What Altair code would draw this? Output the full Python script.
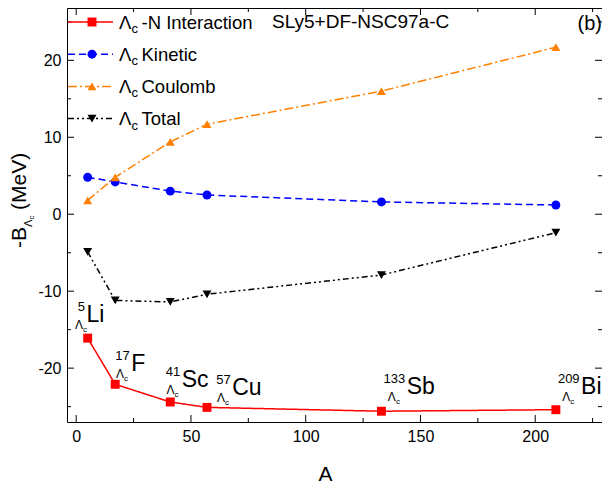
import altair as alt
import pandas as pd

# ---------------- data ----------------
A = [5, 17, 41, 57, 133, 209]
interaction = [-16.1, -22.1, -24.4, -25.1, -25.6, -25.4]
kinetic = [4.8, 4.2, 3.0, 2.5, 1.6, 1.2]
coulomb = [1.8, 4.8, 9.4, 11.7, 16.0, 21.7]
total = [-4.9, -11.2, -11.4, -10.4, -7.9, -2.4]

series = ["Interaction", "Kinetic", "Coulomb", "Total"]
legend_rest = ["-N Interaction", "Kinetic", "Coulomb", "Total"]
colors = ["#FF0000", "#0000FF", "#FF8000", "#000000"]
dashes = [[1, 0], [7, 4], [9, 3, 2, 3], [6, 3, 2, 3, 2, 3]]
shapes = ["square", "circle", "triangle-up", "triangle-down"]
sizes = [80, 80, 110, 110]

mass_numbers = ["5", "17", "41", "57", "133", "209"]
elements = ["Li", "F", "Sc", "Cu", "Sb", "Bi"]
label_x = [4.5, 24, 46, 68, 144, 220]
label_y = [-14.0, -20.4, -22.4, -23.5, -23.4, -23.4]

x_major = [0, 50, 100, 150, 200]
x_minor = [25, 75, 125, 175, 225]
y_major = [-20, -10, 0, 10, 20]
y_minor = [-25, -15, -5, 5, 15, 25]

model_text = "SLy5+DF-NSC97a-C"
panel_text = "(b)"

# ---------------- layout ----------------
W, H = 535, 414
X_DOM = [-4, 229.1]
Y_DOM = [-27, 26.8]
FONT = "Liberation Sans"
PPU = W / (X_DOM[1] - X_DOM[0])

df = pd.DataFrame({
    "A": A * 4,
    "value": interaction + kinetic + coulomb + total,
    "series": sum([[s] * len(A) for s in series], []),
})

xs = alt.Scale(domain=X_DOM, nice=False, zero=False)
ys = alt.Scale(domain=Y_DOM, nice=False, zero=False)
XAXIS = alt.Axis(
    values=x_major, ticks=False, tickSize=0, domain=False, grid=False,
    labelFont=FONT, labelFontSize=16, labelColor="black", labelPadding=6,
    labelExpr="'' + datum.value",
    title="A", titleFont=FONT, titleFontSize=21, titleFontWeight="normal",
    titleColor="black", titleBaseline="alphabetic", titleY=58, titleX=258)
YAXIS = alt.Axis(
    values=y_major, ticks=False, tickSize=0, domain=False, grid=False,
    labelFont=FONT, labelFontSize=16, labelColor="black", labelPadding=6,
    labelExpr="'' + datum.value", title="")

col = alt.Color("series:N", scale=alt.Scale(domain=series, range=colors), legend=None)
dash = alt.StrokeDash("series:N", scale=alt.Scale(domain=series, range=dashes), legend=None)
shp = alt.Shape("series:N", scale=alt.Scale(domain=series, range=shapes), legend=None)
sz = alt.Size("series:N", scale=alt.Scale(domain=series, range=sizes), legend=None)

def X(field):
    return alt.X(field, scale=xs, axis=XAXIS)

def Y(field):
    return alt.Y(field, scale=ys, axis=YAXIS)

lines = alt.Chart(df).mark_line(strokeWidth=1.5).encode(
    x=X("A:Q"), y=Y("value:Q"),
    color=col, strokeDash=dash, detail="series:N", order="A:Q",
)

points = alt.Chart(df).mark_point(filled=True, opacity=1, strokeWidth=0).encode(
    x=X("A:Q"), y=Y("value:Q"), color=col, shape=shp, size=sz,
)

# ---------------- inward ticks ----------------
def xticks(vals, L):
    d = pd.DataFrame({"t": vals})
    base = alt.Chart(d).mark_rule(color="black", strokeWidth=1)
    b = base.encode(x=X("t:Q"), y=alt.value(H - L), y2=alt.value(H))
    t = base.encode(x=X("t:Q"), y=alt.value(0), y2=alt.value(L))
    return [b, t]

def yticks(vals, L):
    d = pd.DataFrame({"t": vals})
    base = alt.Chart(d).mark_rule(color="black", strokeWidth=1)
    l = base.encode(y=Y("t:Q"), x=alt.value(0), x2=alt.value(L))
    r = base.encode(y=Y("t:Q"), x=alt.value(W - L), x2=alt.value(W))
    return [l, r]

ticks = xticks(x_major, 7) + xticks(x_minor, 4) + yticks(y_major, 7) + yticks(y_minor, 4)

# ---------------- nucleus labels ----------------
ann = pd.DataFrame({"num": mass_numbers, "sym": elements, "x": label_x, "y": label_y})
ann["sub_x"] = [x - (2 + 3.6 * len(n)) / PPU for x, n in zip(label_x, mass_numbers)]
abase = alt.Chart(ann)
sym_t = abase.mark_text(font=FONT, fontSize=23, align="left", baseline="alphabetic", color="black").encode(
    x=X("x:Q"), y=Y("y:Q"), text="sym:N")
num_t = abase.mark_text(font=FONT, fontSize=13, align="right", baseline="alphabetic", color="black",
                        dx=-1.5, dy=-11).encode(x=X("x:Q"), y=Y("y:Q"), text="num:N")
lam_t = abase.mark_text(font=FONT, fontSize=12, align="right", baseline="alphabetic", color="black",
                        dx=2, dy=7).encode(x=X("sub_x:Q"), y=Y("y:Q"), text=alt.value("Λ"))
c_t = abase.mark_text(font=FONT, fontSize=8, align="left", baseline="alphabetic", color="black",
                      dx=2, dy=10).encode(x=X("sub_x:Q"), y=Y("y:Q"), text=alt.value("c"))

# ---------------- legend ----------------
leg = pd.DataFrame({"series": series, "rest": legend_rest,
                    "ly": [14 + 32.2 * i for i in range(len(series))]})
lbase = alt.Chart(leg)
ly = alt.Y("ly:Q", scale=None)
leg_line = lbase.mark_rule(strokeWidth=1.5).encode(
    x=alt.value(1), x2=alt.value(46), y=ly, color=col, strokeDash=dash)
leg_pt = lbase.mark_point(filled=True, opacity=1, strokeWidth=0).encode(
    x=alt.value(25), y=ly, color=col, shape=shp, size=sz)
leg_lam = lbase.mark_text(font=FONT, fontSize=18.5, align="left", baseline="alphabetic", color="black",
                          dy=6.5).encode(x=alt.value(52), y=ly, text=alt.value("Λ"))
leg_c = lbase.mark_text(font=FONT, fontSize=13, align="left", baseline="alphabetic", color="black",
                        dy=11).encode(x=alt.value(64.5), y=ly, text=alt.value("c"))
leg_rest = lbase.mark_text(font=FONT, fontSize=18.5, align="left", baseline="alphabetic", color="black",
                           dy=6.5).encode(x=alt.value(74.5), y=ly, text="rest:N")

# ---------------- texts ----------------
tdf = pd.DataFrame({"m": [model_text], "p": [panel_text]})
tbase = alt.Chart(tdf)
model_t = tbase.mark_text(font=FONT, fontSize=19, align="left", baseline="alphabetic", color="black").encode(
    x=alt.value(205), y=alt.value(20), text="m:N")
panel_t = tbase.mark_text(font=FONT, fontSize=20, align="right", baseline="alphabetic", color="black").encode(
    x=alt.value(W), y=alt.value(22), text="p:N")

# y-axis title: -B_{Λc} (MeV)
ytitle_parts = [
    ("-B", -41, 240, 21),
    ("Λ", -35, 219, 11),
    ("c", -33, 211.5, 8),
    ("(MeV)", -41, 202, 21),
]
ytitles = []
for txt, px, py, fs in ytitle_parts:
    ytitles.append(tbase.mark_text(font=FONT, fontSize=fs, align="left", baseline="alphabetic",
                                   color="black", angle=270).encode(
        x=alt.value(px), y=alt.value(py), text=alt.value(txt)))

chart = alt.layer(
    lines, points, *ticks, sym_t, num_t, lam_t, c_t,
    leg_line, leg_pt, leg_lam, leg_c, leg_rest, model_t, panel_t, *ytitles,
).properties(
    width=W, height=H,
    padding={"left": 59, "top": 0, "right": 0, "bottom": 66},
    autosize=alt.AutoSizeParams(type="none"),
).configure_view(stroke="black", strokeWidth=1)

chart.save("out.html", embed_options={"renderer": "svg", "actions": False})
